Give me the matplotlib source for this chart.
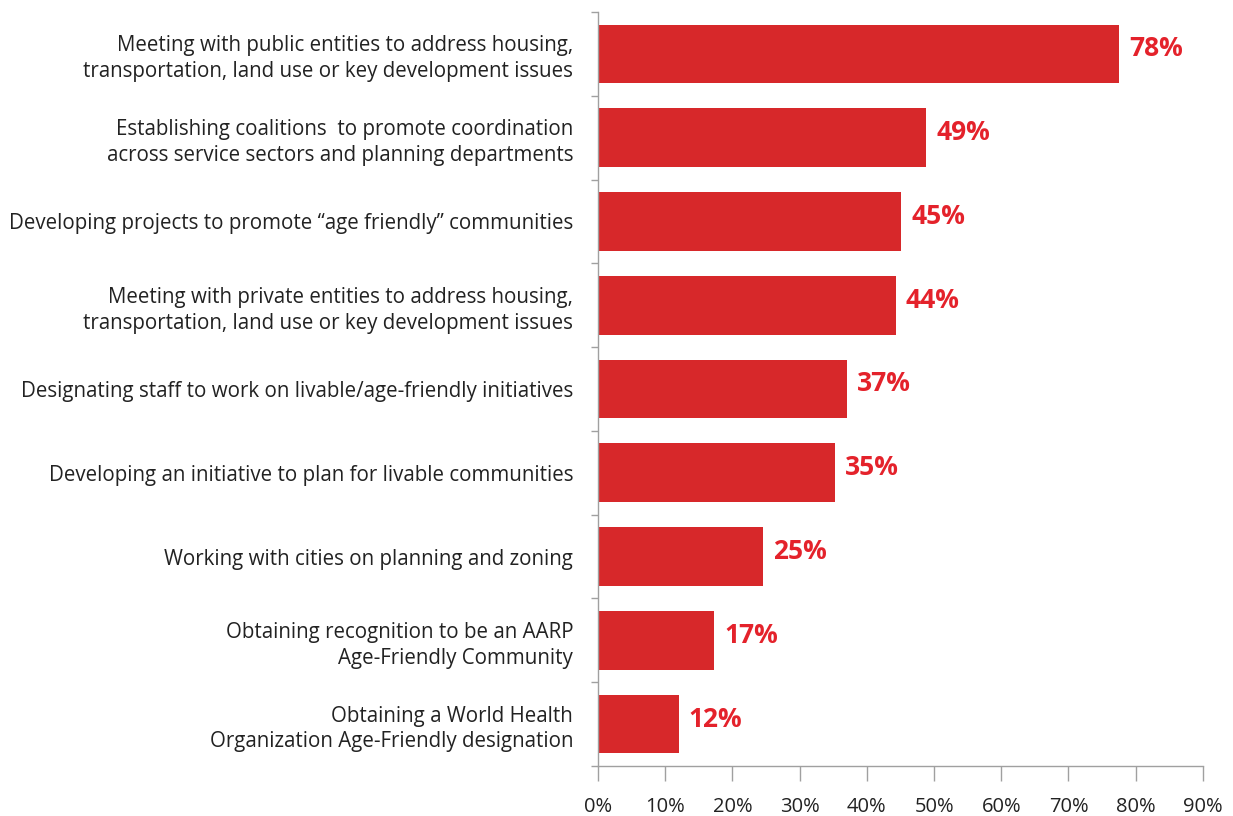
import matplotlib.pyplot as plt
import numpy as np

categories = [
    "Meeting with public entities to address housing,\ntransportation, land use or key development issues",
    "Establishing coalitions  to promote coordination\nacross service sectors and planning departments",
    "Developing projects to promote \u201cage friendly\u201d communities",
    "Meeting with private entities to address housing,\ntransportation, land use or key development issues",
    "Designating staff to work on livable/age-friendly initiatives",
    "Developing an initiative to plan for livable communities",
    "Working with cities on planning and zoning",
    "Obtaining recognition to be an AARP\nAge-Friendly Community",
    "Obtaining a World Health\nOrganization Age-Friendly designation",
]
values = [77.5, 48.8, 45.1, 44.3, 37.0, 35.3, 24.6, 17.3, 12.0]
value_labels = ["78%", "49%", "45%", "44%", "37%", "35%", "25%", "17%", "12%"]
xticks = [0, 10, 20, 30, 40, 50, 60, 70, 80, 90]

plt.rcParams['font.family'] = ['Open Sans', 'DejaVu Sans']

fig = plt.figure(figsize=(12.33, 8.16), dpi=100)
ax = fig.add_axes([0.485, 0.0613, 0.4906, 0.9240])

y = np.arange(len(categories))
ax.barh(y, values, height=0.7, color='#D7282A')
ax.set_ylim(len(categories) - 0.5, -0.5)
ax.set_xlim(0, 90)

# value labels to the right of each bar
for yi, v, lab in zip(y, values, value_labels):
    ax.text(v + 1.5, yi - 0.06, lab, color='#E4222B', fontsize=19,
            fontweight='bold', va='center', ha='left')

ax.set_yticks(y)
ax.set_yticklabels(categories, fontsize=14.8, color='#222222', linespacing=1.3)
ax.set_yticks(np.arange(-0.5, len(categories)), minor=True)
ax.tick_params(axis='y', which='major', length=0, pad=18)
ax.tick_params(axis='y', which='minor', length=5, color='#A0A0A0', width=1)
for t in ax.get_yticklabels():
    t.set_ha('right')

ax.set_xticks(xticks)
ax.set_xticklabels([f"{t}%" for t in xticks], fontsize=14.5, color='#222222')
ax.tick_params(axis='x', length=11, color='#A0A0A0', width=1, pad=11)

for s in ['top', 'right']:
    ax.spines[s].set_visible(False)
for s in ['left', 'bottom']:
    ax.spines[s].set_color('#A0A0A0')
    ax.spines[s].set_linewidth(1)

fig.savefig('out.png', dpi=100)
